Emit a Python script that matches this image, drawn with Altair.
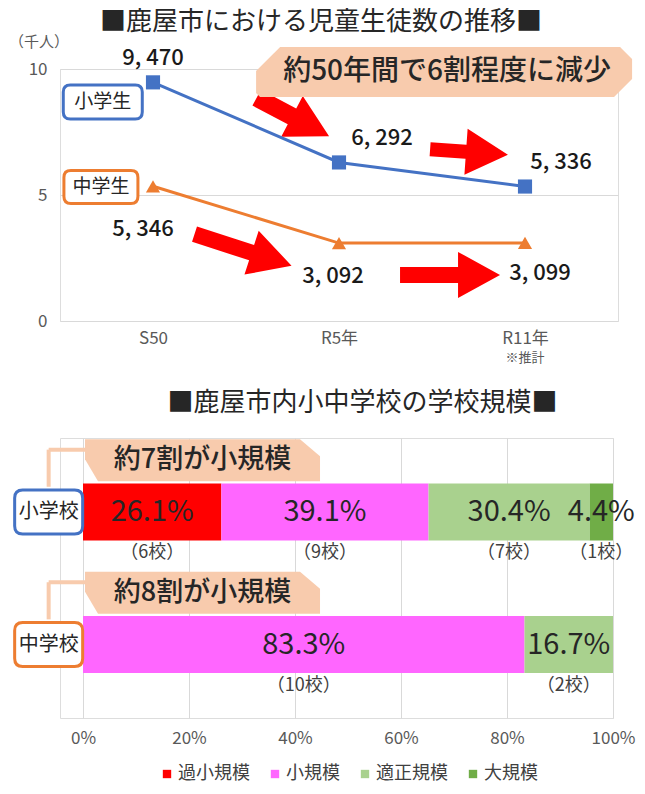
import json
import altair as alt
import pandas as pd

FONT = "Noto Sans CJK JP"

# ---------------- data: top chart (children / students, persons)
years = ["S50", "R5年", "R11年"]
series_names = ["小学生", "中学生"]
elementary_students = [9470, 6292, 5336]
junior_students = [5346, 3092, 3099]
year_note = "※推計"
unit_label = "（千人）"
title_top = "■鹿屋市における児童生徒数の推移■"
callout_top = "約50年間で6割程度に減少"

# ---------------- data: bottom chart (school size)
school_types = ["小学校", "中学校"]
size_classes = ["過小規模", "小規模", "適正規模", "大規模"]
elementary_pct = [26.1, 39.1, 30.4, 4.4]
elementary_schools = [6, 9, 7, 1]
junior_pct = [0.0, 83.3, 16.7, 0.0]
junior_schools = [0, 10, 2, 0]
pct_ticks = [0, 20, 40, 60, 80, 100]
title_bottom = "■鹿屋市内小中学校の学校規模■"
callouts_bottom = ["約7割が小規模", "約8割が小規模"]

BLUE = "#4472C4"
ORANGE = "#ED7D31"
PEACH = "#F8CBAD"
RED = "#FF0000"
size_colors = ["#FF0000", "#FF66FF", "#A9D18E", "#70AD47"]
TXT = "#262626"
AX = "#595959"
GRID = "#D9D9D9"


def arrow_path(L, head_len=42, head_hw=23, shaft_hw=8):
    h = L / 2
    a = 1 - head_len / h
    hw = head_hw / h
    sw = shaft_hw / h
    return (f"M -1 {-sw:.4f} L {a:.4f} {-sw:.4f} L {a:.4f} {-hw:.4f} L 1 0 "
            f"L {a:.4f} {hw:.4f} L {a:.4f} {sw:.4f} L -1 {sw:.4f} Z")


def poly_path(pts, half):
    return "M " + " L ".join(f"{x / half:.4f} {y / half:.4f}" for x, y in pts) + " Z"


def rrect_path(w, h, r):
    b = h / w
    rr = 2 * r / w
    return (f"M {-1 + rr:.4f} {-b:.4f} L {1 - rr:.4f} {-b:.4f} Q 1 {-b:.4f} 1 {-b + rr:.4f} "
            f"L 1 {b - rr:.4f} Q 1 {b:.4f} {1 - rr:.4f} {b:.4f} L {-1 + rr:.4f} {b:.4f} "
            f"Q -1 {b:.4f} -1 {b - rr:.4f} L -1 {-b + rr:.4f} Q -1 {-b:.4f} {-1 + rr:.4f} {-b:.4f} Z")


# ================= TOP CHART =================
rows = []
for s, counts in zip(series_names, [elementary_students, junior_students]):
    for i, (yr, c) in enumerate(zip(years, counts)):
        rows.append(dict(series=s, i=i, year=yr, count=c, thousands=c / 1000))
tdf = pd.DataFrame(rows)

xt = alt.Scale(domain=[-0.5, 2.5], nice=False, zero=False)
yt = alt.Scale(domain=[0, 10], nice=False, zero=False)
X = alt.X("i:Q", scale=xt, axis=alt.Axis(
    values=[0, 1, 2], labelExpr=json.dumps(years, ensure_ascii=False) + "[datum.value]",
    grid=False, domain=False, ticks=False, labelPadding=9, labelFontSize=17,
    labelColor=AX, labelFont=FONT, title=None, labelFlush=False))
Y = alt.Y("thousands:Q", scale=yt, axis=alt.Axis(
    values=[0, 5, 10], grid=True, gridColor=GRID, domain=False, ticks=False,
    labelPadding=13, labelFontSize=17, labelColor=AX, labelFont=FONT, title=None))
col = alt.Color("series:N", scale=alt.Scale(domain=series_names, range=[BLUE, ORANGE]), legend=None)

lines = alt.Chart(tdf).mark_line(strokeWidth=3).encode(x=X, y=Y, color=col)
pts = alt.Chart(tdf).mark_point(filled=True, size=200, opacity=1).encode(
    x="i:Q", y="thousands:Q", color=col,
    shape=alt.Shape("series:N", scale=alt.Scale(domain=series_names, range=["square", "triangle-up"]), legend=None))

top_layers = []


def pt(x, y):
    return pd.DataFrame({"i": [x], "thousands": [y]})


# red arrows (x, y, length, angle, shaft half width)
for ax_, ay_, L, ang, shw in [(0.752, 8.1, 82, 28, 9), (1.699, 6.71, 78, 4, 7),
                               (0.484, 2.82, 102, 18, 8), (1.597, 1.83, 100, 0, 8)]:
    top_layers.append(alt.Chart(pt(ax_, ay_)).mark_point(
        shape=arrow_path(L, shaft_hw=shw), size=L * L, angle=ang, filled=True,
        color=RED, opacity=1, strokeWidth=0).encode(x="i:Q", y="thousands:Q"))

# callout
cpts = [(-164, -25), (176, -25), (188, -13), (188, 7), (170, 25), (-184, 25), (-188, 21), (-188, -1)]
top_layers.append(alt.Chart(pt(1.565, 9.88)).mark_point(
    shape=poly_path(cpts, 188), size=376 * 376, filled=True, color=PEACH, opacity=1,
    strokeWidth=0).encode(x="i:Q", y="thousands:Q"))
top_layers.append(alt.Chart(pt(1.581, 9.88)).mark_text(
    text=callout_top, fontSize=28, fontWeight=500, color=TXT, font=FONT).encode(x="i:Q", y="thousands:Q"))

top_layers += [lines, pts]

# data labels
offsets = {("小学生", 0): (0, -24), ("小学生", 1): (43, -24), ("小学生", 2): (36, -25),
           ("中学生", 0): (-10, 43), ("中学生", 1): (-6, 33), ("中学生", 2): (15, 30)}
for (s, i), (dx, dy) in offsets.items():
    sub = tdf[(tdf.series == s) & (tdf.i == i)]
    top_layers.append(alt.Chart(sub).transform_calculate(
        label="replace(format(datum.count, ','), ',', ', ')").mark_text(
        dx=dx, dy=dy, fontSize=22, fontWeight=500, color="#1A1A1A", font=FONT).encode(
        x="i:Q", y="thousands:Q", text="label:N"))

# series label boxes
for s, colr, bx, by, w, h in [("小学生", BLUE, -0.27, 8.69, 79, 34), ("中学生", ORANGE, -0.28, 5.32, 74, 33)]:
    top_layers.append(alt.Chart(pt(bx, by)).mark_point(
        shape=rrect_path(w, h, 7), size=w * w, filled=True, fill="white", stroke=colr,
        strokeWidth=3, opacity=1).encode(x="i:Q", y="thousands:Q"))
    top_layers.append(alt.Chart(pt(bx, by)).mark_text(
        text=s, fontSize=19, color=TXT, font=FONT).encode(x="i:Q", y="thousands:Q"))

# unit + note
top_layers.append(alt.Chart(pt(-0.613, 11.07)).mark_text(
    text=unit_label, fontSize=15, color=AX, font=FONT).encode(x="i:Q", y="thousands:Q"))
top_layers.append(alt.Chart(pt(2, -1.47)).mark_text(
    text=year_note, fontSize=13, color=AX, font=FONT).encode(x="i:Q", y="thousands:Q"))

top = alt.layer(*top_layers).properties(
    width=558, height=252,
    title=alt.TitleParams(title_top, fontSize=26, fontWeight="normal", color=TXT, font=FONT,
                          anchor="middle", frame="group", offset=0, dx=-18))

# ================= BOTTOM CHART =================
brows = []
for r, (school, pcts, ns) in enumerate(zip(school_types, [elementary_pct, junior_pct],
                                           [elementary_schools, junior_schools])):
    for k, (cat, p, n) in enumerate(zip(size_classes, pcts, ns)):
        if p > 0:
            brows.append(dict(school=school, row=r, cat=cat, order=k, pct=p, n=n))
bdf = pd.DataFrame(brows)

xb = alt.Scale(domain=[-4.34, 100], nice=False, zero=False)
yb = alt.Scale(domain=[-0.52, 1.516], nice=False, zero=False, reverse=True)

stacked = alt.Chart(bdf).transform_stack(
    stack="pct", groupby=["school"], as_=["x0", "x1"], sort=[alt.SortField("order")]
).transform_calculate(
    mid="(datum.x0 + datum.x1) / 2",
    pct_label="format(datum.pct, '.1f') + '%'",
    n_label="'（' + datum.n + '校）'")

XB = alt.X("x0:Q", scale=xb, axis=alt.Axis(
    values=pct_ticks, labelExpr="datum.value + '%'", grid=True, gridColor=GRID,
    domain=False, ticks=False, labelPadding=12, labelFontSize=17, labelColor=AX,
    labelFont=FONT, title=None, labelFlush=False))
YB = alt.Y("row:Q", scale=yb, axis=None)

bars = stacked.mark_bar(orient="horizontal", size=57).encode(
    x=XB, x2="x1:Q", y=YB,
    color=alt.Color("cat:N", scale=alt.Scale(domain=size_classes, range=size_colors),
                    legend=alt.Legend(title=None, orient="none", legendX=98, legendY=327,
                                      direction="horizontal", symbolType="square",
                                      symbolSize=70, labelFontSize=18, labelFont=FONT,
                                      labelColor="#404040", columnPadding=16, labelOffset=2)),
    order=alt.Order("order:Q"))
pct_text = stacked.mark_text(fontSize=29, color=TXT, font=FONT).encode(
    x="mid:Q", y="row:Q", text="pct_label:N")
n_text = stacked.mark_text(fontSize=18, color="#404040", font=FONT, dy=41).encode(
    x="mid:Q", y="row:Q", text="n_label:N")

adf = pd.DataFrame({"row": [0, 1], "school": school_types, "callout": callouts_bottom,
                    "colr": [BLUE, ORANGE]})
ann = alt.Chart(adf).transform_calculate(
    cy="datum.row - 0.39", hy="datum.row - 0.47", vy2="datum.row - 0.19",
    bx="-6.48", cx="22.55", hx2="1")

conn_h = ann.mark_rule(color=PEACH, strokeWidth=4).encode(
    x=alt.X("bx:Q"), x2="hx2:Q", y=alt.Y("hy:Q"))
conn_v = ann.mark_rule(color=PEACH, strokeWidth=4).encode(
    x=alt.X("bx:Q"), y=alt.Y("hy:Q"), y2="vy2:Q")

bpts = [(-117.5, -21), (97.5, -21), (117.5, -4), (117.5, 21), (-104.5, 21), (-117.5, -1)]
callout_b = ann.mark_point(shape=poly_path(bpts, 117.5), size=235 * 235, filled=True,
                           color=PEACH, opacity=1, strokeWidth=0).encode(
    x=alt.X("cx:Q"), y=alt.Y("cy:Q"))
callout_bt = ann.mark_text(fontSize=27, fontWeight=500, color=TXT, font=FONT).encode(
    x=alt.X("cx:Q"), y=alt.Y("cy:Q"), text="callout:N")

box_w, box_h = 68, 44
boxes = ann.mark_point(shape=rrect_path(box_w, box_h, 8), size=box_w * box_w, filled=True,
                       fill="white", strokeWidth=3, opacity=1).encode(
    x=alt.X("bx:Q"), y=alt.Y("row:Q"),
    stroke=alt.Stroke("colr:N", scale=None))
box_t = ann.mark_text(fontSize=20, color=TXT, font=FONT).encode(
    x=alt.X("bx:Q"), y=alt.Y("row:Q"), text="school:N")

bottom = alt.layer(bars, pct_text, n_text, conn_h, conn_v, callout_b, callout_bt, boxes, box_t).properties(
    width=553, height=280,
    title=alt.TitleParams(title_bottom, fontSize=26, fontWeight="normal", color=TXT, font=FONT,
                          anchor="middle", frame="group", offset=22, dx=26))

chart = alt.vconcat(top, bottom, spacing=23, padding=0).resolve_scale(
    color="independent", shape="independent", stroke="independent"
).resolve_legend(color="independent").configure_view(stroke=None).configure(font=FONT, padding=0)

chart.save("out.html", embed_options={"renderer": "svg", "actions": False})
